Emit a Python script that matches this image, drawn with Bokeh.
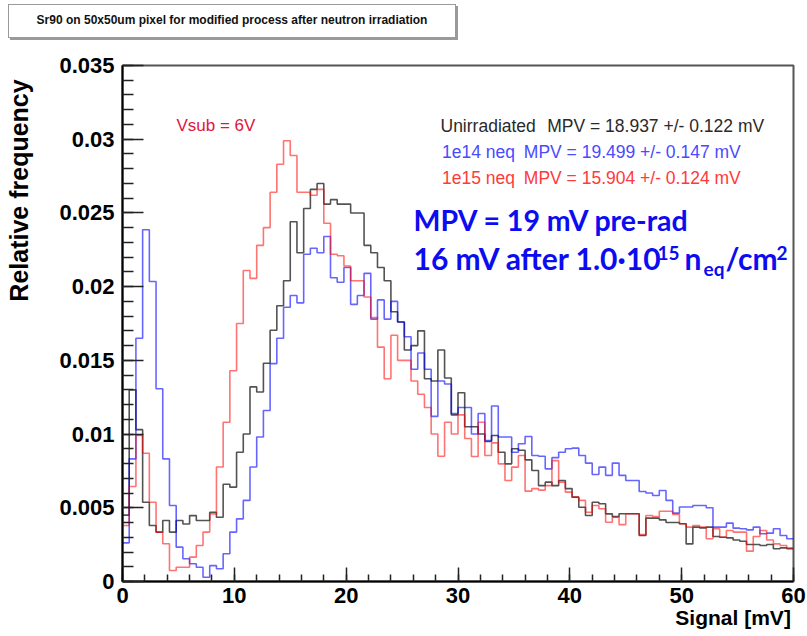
from bokeh.plotting import figure
from bokeh.layouts import column
from bokeh.models import Label, FixedTicker, Range1d, Div
from bokeh.embed import file_html
from bokeh.resources import INLINE

# ---------------- data ----------------
bin_width = 0.6           # mV
n_bins = 100              # 0 .. 60 mV
bin_edges = [round(i * bin_width, 1) for i in range(n_bins + 1)]

unirradiated = [
    0.0045, 0.0130, 0.0103, 0.00538, 0.0038, 0.00335, 0.00414, 0.00335, 0.00414, 0.0039,
    0.00447, 0.00414, 0.00414, 0.0047, 0.00436, 0.0066, 0.0064, 0.00877, 0.0100, 0.0132,
    0.01285, 0.0148, 0.01704, 0.0187, 0.0204, 0.0244, 0.0223, 0.0253, 0.0266, 0.0270,
    0.0256, 0.0259, 0.0256, 0.0256, 0.0250, 0.0250, 0.0228, 0.0223, 0.0213, 0.0204,
    0.0183, 0.0176, 0.0157, 0.0160, 0.0170, 0.01375, 0.0136, 0.0157, 0.0138, 0.0113,
    0.0128, 0.0105, 0.0105, 0.0100, 0.0095, 0.0099, 0.00877, 0.00798, 0.0090, 0.0089,
    0.00825, 0.00753, 0.0065, 0.00674, 0.0065, 0.00685, 0.0063, 0.00572, 0.00504, 0.00448,
    0.00538, 0.00527, 0.00459, 0.0044, 0.0046, 0.0046, 0.0046, 0.00312, 0.0043, 0.0043,
    0.00418, 0.0040, 0.0040, 0.00392, 0.00255, 0.00369, 0.00364, 0.00369, 0.00305, 0.0030,
    0.00296, 0.00282, 0.00273, 0.00251, 0.00251, 0.00244, 0.00251, 0.00222, 0.00228, 0.00222,
]

neq_1e14 = [
    0.00262, 0.00832, 0.0165, 0.02386, 0.02035, 0.01307, 0.00832, 0.00516, 0.00233, 0.00154,
    0.0012, 0.00097, 0.00029, 0.00108, 0.00086, 0.00188, 0.00335, 0.00425, 0.0055, 0.00777,
    0.0098, 0.0116, 0.01478, 0.0165, 0.0186, 0.0194, 0.0189, 0.0222, 0.0226, 0.0223,
    0.0234, 0.0206, 0.0203, 0.0213, 0.0188, 0.0194, 0.0209, 0.0178, 0.0191, 0.0178,
    0.0190, 0.0176, 0.0166, 0.0144, 0.0155, 0.0144, 0.0112, 0.0136, 0.0134, 0.0114,
    0.0118, 0.0118, 0.0100, 0.0114, 0.00956, 0.0119, 0.0098, 0.0098, 0.00877, 0.00934,
    0.00984, 0.00855, 0.0085, 0.00764, 0.0084, 0.00877, 0.0090, 0.00905, 0.00855, 0.00803,
    0.00726, 0.00776, 0.0072, 0.00803, 0.0072, 0.00685, 0.00685, 0.0061, 0.0060, 0.00583,
    0.00617, 0.0055, 0.00464, 0.00505, 0.00505, 0.00516, 0.00516, 0.0050, 0.00369, 0.00369,
    0.00396, 0.00362, 0.00358, 0.0035, 0.00369, 0.00324, 0.00328, 0.00358, 0.00312, 0.0029,
]

neq_1e15 = [
    0.0038, 0.00644, 0.0099, 0.0087, 0.00538, 0.00335, 0.00256, 0.00075, 0.00097, 0.00097,
    0.00165, 0.00244, 0.00335, 0.00459, 0.00777, 0.0108, 0.0143, 0.0175, 0.0211, 0.02056,
    0.0228, 0.0240, 0.0264, 0.0283, 0.0299, 0.0289, 0.0264, 0.0264, 0.0262, 0.0266,
    0.0243, 0.0222, 0.0221, 0.0214, 0.0204, 0.0204, 0.0193, 0.0179, 0.0159, 0.01375,
    0.0167, 0.0150, 0.0150, 0.0136, 0.0127, 0.0118, 0.0100, 0.0085, 0.0108, 0.0100,
    0.0113, 0.0097, 0.00848, 0.0108, 0.00855, 0.0094, 0.00798, 0.00685, 0.00776, 0.00855,
    0.00613, 0.0063, 0.0062, 0.0065, 0.0082, 0.00674, 0.00606, 0.00572, 0.0055, 0.0047,
    0.00515, 0.00493, 0.00402, 0.00436, 0.00386, 0.0046, 0.0046, 0.00319, 0.00448, 0.0044,
    0.00477, 0.00477, 0.00455, 0.00392, 0.00369, 0.0038, 0.00369, 0.0029, 0.00358, 0.0030,
    0.00346, 0.00335, 0.00335, 0.00206, 0.00305, 0.00346, 0.00282, 0.00255, 0.00244, 0.00228,
]

x_ticks = [0, 10, 20, 30, 40, 50, 60]
x_tick_labels = ["0", "10", "20", "30", "40", "50", "60"]
y_ticks = [0, 0.005, 0.01, 0.015, 0.02, 0.025, 0.03, 0.035]
y_tick_labels = ["0", "0.005", "0.01", "0.015", "0.02", "0.025", "0.03", "0.035"]

title_text = "Sr90 on 50x50um pixel for modified process after neutron irradiation"
x_title = "Signal [mV]"
y_title = "Relative frequency"
series_names = ["Unirradiated", "1e14 neq", "1e15 neq"]
mpv_texts = [
    "MPV = 18.937 +/- 0.122 mV",
    "MPV = 19.499 +/- 0.147 mV",
    "MPV = 15.904 +/- 0.124 mV",
]


def try_set(obj, **kw):
    for k, v in kw.items():
        try:
            setattr(obj, k, v)
        except Exception:
            pass


FONT = "Liberation Sans"
TOP_H = 40   # height of the title strip
EM = "\u2003"
EN = "\u2002"
QEM = "\u2005"

# ---------------- title strip (pave box) ----------------
box_style = ("width:448px;height:34px;box-sizing:border-box;border:1.5px solid #9a9a9a;"
             "box-shadow:2px 2px 0 #9a9a9a;background:white;font-family:'Liberation Sans',Arial,sans-serif;"
             "font-weight:bold;font-size:12px;color:#111111;display:flex;align-items:center;"
             "justify-content:center;white-space:nowrap;")
title_div = Div(text=f'<div style="padding:4px 0 0 8px;margin:0;"><div style="{box_style}">{title_text}</div></div>',
                width=807, height=TOP_H)
try_set(title_div, margin=(0, 0, 0, 0))

# ---------------- main figure ----------------
p = figure(width=807, height=636 - TOP_H, output_backend="svg", toolbar_location=None,
           x_range=Range1d(0, 60), y_range=Range1d(0, 0.035),
           min_border_left=122, min_border_right=14, min_border_top=65 - TOP_H,
           min_border_bottom=55)
p.background_fill_color = "white"
p.border_fill_color = "white"
p.xgrid.visible = False
p.ygrid.visible = False
p.outline_line_color = "#555555"
p.outline_line_width = 2
try_set(p, margin=(0, 0, 0, 0))

series = [
    (unirradiated, "#1a1a1a", 0.75),
    (neq_1e14, "#0000ff", 0.6),
    (neq_1e15, "#ff0000", 0.55),
]
for vals, col, alpha in series:
    p.step(x=bin_edges, y=vals + [vals[-1]], mode="after",
           line_color=col, line_alpha=alpha, line_width=1.6)

# axes
p.xaxis.ticker = FixedTicker(ticks=x_ticks, minor_ticks=[2 * i for i in range(31)])
p.xaxis.major_label_overrides = dict(zip(x_ticks, x_tick_labels))
p.yaxis.ticker = FixedTicker(ticks=y_ticks, minor_ticks=[0.001 * i for i in range(36)])
p.yaxis.major_label_overrides = dict(zip(y_ticks, y_tick_labels))

xa = p.xaxis[0]
ya = p.yaxis[0]
for ax in (xa, ya):
    ax.axis_line_width = 2
    ax.axis_line_color = "black"
    ax.major_tick_line_color = "#222222"
    ax.minor_tick_line_color = "#222222"
    ax.major_tick_line_width = 1.5
    ax.minor_tick_line_width = 1.5
    ax.major_tick_out = 0
    ax.minor_tick_out = 0
    ax.major_label_text_font = FONT
    ax.major_label_text_font_style = "bold"
    ax.major_label_text_font_size = "22px"
    ax.major_label_text_color = "black"
    ax.axis_label_text_font = FONT
    ax.axis_label_text_font_style = "bold"
    ax.axis_label_text_color = "black"
    try_set(ax, axis_label_align="end")

xa.major_tick_in = 14
xa.minor_tick_in = 7
xa.major_label_standoff = 6
# label is centred on the axis end; trailing (invisible) em spaces shift the visible words
xa.axis_label = x_title + EM * 5 + EN + QEM
xa.axis_label_standoff = 0
xa.axis_label_text_font_size = "21px"
ya.major_tick_in = 21
ya.minor_tick_in = 11
ya.major_label_standoff = 8
ya.axis_label = y_title + EM * 10
ya.axis_label_standoff = 23
ya.axis_label_text_font_size = "25px"

# ---------------- in-frame texts ----------------
FL, FB = 122, 581 - TOP_H   # frame left / bottom inside the main figure


def lab(text, cx, cy, **kw):
    l = Label(x=cx - FL, y=FB - (cy - TOP_H), x_units="screen", y_units="screen", text=text,
              text_baseline="middle", text_align="left", **kw)
    p.add_layout(l)
    return l


lab("Vsub = 6V", 176, 125, text_font=FONT, text_font_size="17px", text_color="#e0163c")

legend_colors = ["#2a2a2a", "#4a4aff", "#ff3a3a"]
legend_y = [125, 151.5, 177]
name_x = [440, 441.5, 441.5]
mpv_x = [546.7, 523.3, 523.3]
for nm, mv, c, yy, x1, x2 in zip(series_names, mpv_texts, legend_colors, legend_y, name_x, mpv_x):
    lab(nm, x1, yy, text_font=FONT, text_font_size="17.5px", text_color=c)
    lab(mv, x2, yy, text_font=FONT, text_font_size="17.5px", text_color=c)

BIG = "Lato"
BLUE = "#0c0cf0"
big = dict(text_font=BIG, text_font_style="bold", text_color=BLUE)
lab("MPV = 19 mV pre-rad", 413, 219, text_font_size="28.5px", **big)
lab("16 mV after 1.0\u00b710", 413, 257, text_font_size="30px", **big)
lab("15", 657, 252, text_font_size="19px", **big)
lab("n", 684, 257, text_font_size="30px", **big)
lab("eq", 703, 268, text_font_size="19px", **big)
lab("/cm", 725, 257, text_font_size="30px", **big)
lab("2", 776, 252, text_font_size="19px", **big)

layout = column(title_div, p, spacing=0)
try_set(layout, margin=(0, 0, 0, 0))
open("out.html", "w").write(file_html(layout, INLINE))
